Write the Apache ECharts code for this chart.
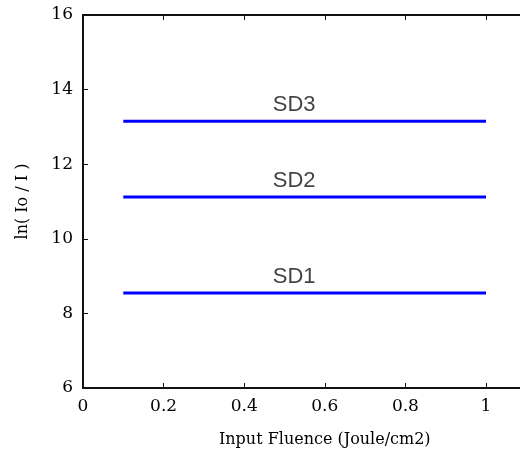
<!DOCTYPE html>
<html>
<head>
<meta charset="utf-8">
<script src="https://cdn.jsdelivr.net/npm/echarts@6/dist/echarts.min.js"></script>
<style>html,body{margin:0;padding:0;background:#fff;overflow:hidden}#c{width:520px;height:456px}</style>
</head>
<body>
<div id="c"></div>
<script>
const seriesNames = ['SD1', 'SD2', 'SD3'];
const fluenceStart = [0.1, 0.1, 0.1];
const fluenceEnd = [1.0, 1.0, 1.0];
const lnValues = [8.55, 11.12, 13.15];
const labelX = 0.524;
const xTicks = [0, 0.2, 0.4, 0.6, 0.8, 1];
const yTicks = [6, 8, 10, 12, 14, 16];

const chart = echarts.init(document.getElementById('c'), null, {renderer: 'canvas'});
const serif = 'DejaVu Serif';
const axisLineStyle = {color: '#111', width: 2};

const series = [];
seriesNames.forEach((n, i) => {
  series.push({
    type: 'line', name: n, xAxisIndex: 0, yAxisIndex: 0,
    data: [[fluenceStart[i], lnValues[i]], [fluenceEnd[i], lnValues[i]]],
    showSymbol: false, symbol: 'none',
    lineStyle: {color: '#0000ff', width: 3},
    animation: false, silent: true
  });
  series.push({
    type: 'scatter', xAxisIndex: 0, yAxisIndex: 0,
    data: [[labelX, lnValues[i]]],
    symbolSize: 0,
    label: {show: true, position: 'top', distance: 5, formatter: n,
      fontFamily: 'Liberation Sans', fontSize: 22, color: '#111'},
    animation: false, silent: true
  });
});

chart.setOption({
  animation: false,
  grid: {left: 83, top: 15, width: 483.6, height: 373, containLabel: false, outerBoundsMode: 'none'},
  xAxis: [{
    type: 'value', min: 0, max: 1.2, interval: 0.2, position: 'bottom',
    axisLine: {show: true, lineStyle: axisLineStyle},
    axisTick: {show: true, inside: true, length: 5, lineStyle: {color: '#111', width: 1}},
    splitLine: {show: false},
    axisLabel: {margin: 10, fontFamily: serif, fontSize: 17, color: '#000',
      formatter: v => xTicks.some(t => Math.abs(t - v) < 1e-9) ? String(+v.toFixed(1)) : ''},
    name: 'Input Fluence (Joule/cm2)', nameLocation: 'middle', nameGap: 44,
    nameTextStyle: {fontFamily: serif, fontSize: 16, color: '#000'}
  }, {
    type: 'value', min: 0, max: 1.2, interval: 0.2, position: 'top',
    axisLine: {show: true, lineStyle: axisLineStyle},
    axisTick: {show: true, inside: true, length: 5, lineStyle: {color: '#111', width: 1}},
    axisLabel: {show: false}, splitLine: {show: false}
  }],
  yAxis: [{
    type: 'value', min: 6, max: 16, interval: 2,
    axisLine: {show: true, lineStyle: axisLineStyle},
    axisTick: {show: true, inside: true, length: 5, lineStyle: {color: '#111', width: 1}},
    splitLine: {show: false},
    axisLabel: {margin: 10, fontFamily: serif, fontSize: 17, color: '#000',
      formatter: v => yTicks.includes(v) ? String(v) : ''},
    name: 'ln( Io / I )', nameLocation: 'middle', nameGap: 52,
    nameTextStyle: {fontFamily: serif, fontSize: 16, color: '#000'}
  }],
  series: series
});
</script>
</body>
</html>
